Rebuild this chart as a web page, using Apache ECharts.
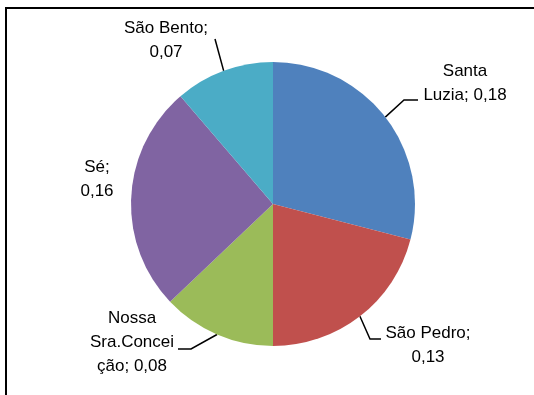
<!DOCTYPE html>
<html>
<head>
<meta charset="utf-8">
<script src="https://cdn.jsdelivr.net/npm/echarts@6/dist/echarts.min.js"></script>
<style>
  html, body { margin: 0; padding: 0; background: #fff; }
  #chart { width: 534px; height: 395px; }
</style>
</head>
<body>
<div id="chart"></div>
<script>
// Share per district
const districts = ['Santa Luzia', 'São Pedro', 'Nossa Sra.Conceição', 'Sé', 'São Bento'];
const shares = [0.18, 0.13, 0.08, 0.16, 0.07];
const sliceColors = ['#4F81BD', '#C0504D', '#9BBB59', '#8064A2', '#4BACC6'];

// Label placement: centre of the text block, wrap offsets, leader line bend and end
const labelPlacement = [
  { cx: 465, cy: 83,  breaks: [5],     bend: [404, 100], end: [418, 100] },
  { cx: 428, cy: 345, breaks: [10],    bend: [370, 339], end: [381, 339] },
  { cx: 132, cy: 342, breaks: [5, 16], bend: [191, 349], end: [178, 349] },
  { cx: 97,  cy: 179, breaks: [3],     bend: null,       end: null },
  { cx: 166, cy: 40,  breaks: [10],    bend: [215, 39],  end: [215, 39] }
];

function formatShare(v) {
  return v.toFixed(2).replace('.', ',');
}

function wrapText(text, breaks) {
  const lines = [];
  let from = 0;
  breaks.forEach(function (b) {
    lines.push(text.slice(from, b).trim());
    from = b;
  });
  lines.push(text.slice(from).trim());
  return lines.join('\n');
}

const chart = echarts.init(document.getElementById('chart'), null, { renderer: 'canvas' });

chart.setOption({
  backgroundColor: '#fff',
  animation: false,
  graphic: [{
    type: 'rect',
    shape: { x: 6, y: 8, width: 600, height: 500 },
    style: { fill: 'none', stroke: '#000', lineWidth: 2 },
    silent: true
  }],
  series: [{
    type: 'pie',
    center: [273, 204],
    radius: 142,
    startAngle: 90,
    clockwise: true,
    avoidLabelOverlap: false,
    itemStyle: { borderWidth: 0 },
    label: {
      show: true,
      position: 'outside',
      fontFamily: 'Liberation Sans',
      fontSize: 17,
      lineHeight: 24,
      color: '#000',
      align: 'center',
      formatter: function (p) {
        const text = p.name + '; ' + formatShare(p.value);
        return wrapText(text, labelPlacement[p.dataIndex].breaks);
      }
    },
    labelLine: {
      show: true,
      length: 10,
      length2: 10,
      lineStyle: { color: '#000', width: 1.5 }
    },
    labelLayout: function (params) {
      const pl = labelPlacement[params.dataIndex];
      const out = { x: pl.cx, y: pl.cy, align: 'center', verticalAlign: 'middle' };
      if (pl.bend && params.labelLinePoints) {
        const start = params.labelLinePoints[0];
        out.labelLinePoints = [start, pl.bend, pl.end];
      }
      return out;
    },
    data: districts.map(function (name, i) {
      const item = {
        name: name,
        value: shares[i],
        itemStyle: { color: sliceColors[i] }
      };
      if (!labelPlacement[i].bend) {
        item.labelLine = { show: false };
      }
      return item;
    })
  }]
});
</script>
</body>
</html>
